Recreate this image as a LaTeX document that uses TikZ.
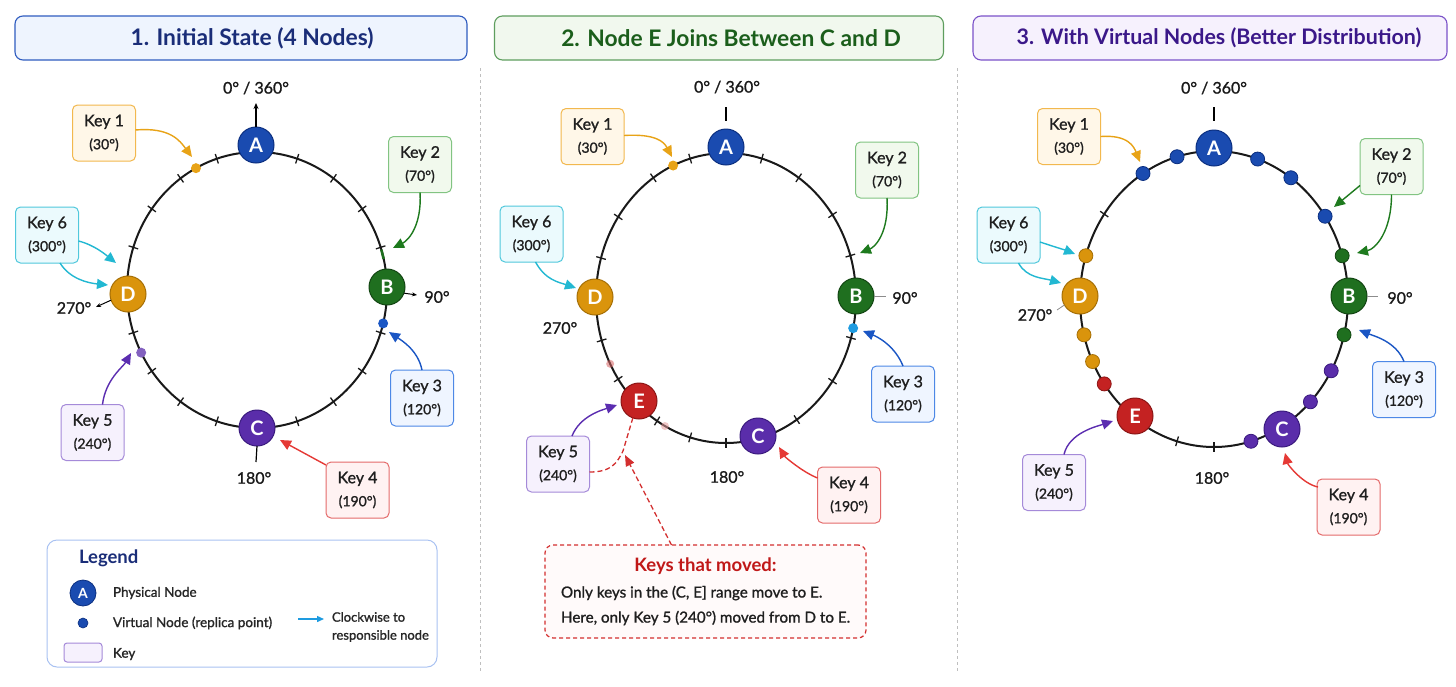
\documentclass[tikz,border=0pt]{standalone}
\usepackage{fontspec}
\setmainfont{Lato}
\newfontfamily\medium[FakeBold=1.2]{Lato}
\usetikzlibrary{arrows.meta,calc}
\definecolor{nblue}{HTML}{1A4BB0}
\definecolor{nblueD}{HTML}{0B2F80}
\definecolor{ngreen}{HTML}{1F6F1F}
\definecolor{ngreenD}{HTML}{124512}
\definecolor{npurple}{HTML}{5A2DAA}
\definecolor{npurpleD}{HTML}{3A1A7E}
\definecolor{norange}{HTML}{DA940C}
\definecolor{norangeD}{HTML}{A66F05}
\definecolor{nred}{HTML}{C42222}
\definecolor{nredD}{HTML}{8C1515}
\definecolor{kob}{HTML}{F2B84E}\definecolor{kof}{HTML}{FFF7E8}\definecolor{koa}{HTML}{E8A317}
\definecolor{kgb}{HTML}{82C482}\definecolor{kgf}{HTML}{F1F9ED}\definecolor{kga}{HTML}{1E7A1E}
\definecolor{kbb}{HTML}{4D88E6}\definecolor{kbf}{HTML}{EFF5FF}\definecolor{kba}{HTML}{1A56C4}
\definecolor{krb}{HTML}{E46A6A}\definecolor{krf}{HTML}{FFF2F2}\definecolor{kra}{HTML}{E53935}
\definecolor{kpb}{HTML}{A58AD9}\definecolor{kpf}{HTML}{F6F1FD}\definecolor{kpa}{HTML}{5B2DB0}
\definecolor{kcb}{HTML}{50C8DC}\definecolor{kcf}{HTML}{EBFAFD}\definecolor{kca}{HTML}{22B8D2}
\definecolor{tbf}{HTML}{EEF4FE}\definecolor{tbb}{HTML}{2F5CC0}\definecolor{tbt}{HTML}{1A2D78}
\definecolor{tgf}{HTML}{F1F8EE}\definecolor{tgb}{HTML}{5E9E5E}\definecolor{tgt}{HTML}{1B5E1B}
\definecolor{tpf}{HTML}{F6F1FD}\definecolor{tpb}{HTML}{7B52C9}\definecolor{tpt}{HTML}{3B1889}
\definecolor{mvred}{HTML}{D32F2F}\definecolor{mvtxt}{HTML}{C01818}
\definecolor{lgb}{HTML}{A9C2F2}\definecolor{cwarrow}{HTML}{1E9BE0}
\newcommand{\rtick}[5]{\draw[tickline] ({#1+(#3-5)*sin(#5)},{#2-(#4-5)*cos(#5)}) -- ({#1+(#3+5)*sin(#5)},{#2-(#4+5)*cos(#5)});}
\newcommand{\keytext}[2]{#1\\{\fontsize{14}{23}\selectfont #2}}
\begin{document}
\begin{tikzpicture}[x=1pt,y=-1pt,
  every node/.style={inner sep=0pt, outer sep=0pt},
  ring/.style={draw=black!90, line width=2pt},
  tickline/.style={draw=black!90, line width=1.3pt},
  pnode/.style 2 args={circle, minimum size=36pt, fill=#1, draw=#2, line width=1pt, text=white, font=\fontsize{20}{20}\selectfont\bfseries},
  vnode/.style 2 args={circle, minimum size=14pt, fill=#1, draw=#2, line width=0.8pt},
  kdot/.style={circle, minimum size=10pt, fill=#1},
  kbox/.style 2 args={draw=#1, fill=#2, rounded corners=5pt, line width=1pt, minimum width=63pt, minimum height=56pt, align=center, text=black!88, font=\medium\fontsize{16}{23}\selectfont},
  karrow/.style={draw=#1, line width=1.4pt, -{Triangle[length=11pt,width=10pt]}},
  deglabel/.style={font=\medium\fontsize{16}{16}\selectfont, text=black!90},
  ptitle/.style 2 args={draw=#2, fill=#1, rounded corners=8pt, line width=1.1pt, minimum height=44pt},
  ptext/.style={text=#1, font=\fontsize{22.8}{22.8}\selectfont\bfseries},
  sepline/.style={draw=black!25, line width=1pt, dash pattern=on 3pt off 3pt},
  reddash/.style={draw=mvred, line width=1.3pt, dash pattern=on 5pt off 3pt},
  lgtext/.style={anchor=west, font=\medium\fontsize{13.5}{15}\selectfont, text=black!85}
]
\fill[white] (0,0) rectangle (1456,686);
\useasboundingbox (0,0) rectangle (1456,686);

% separators
\draw[sepline] (480,68) -- (480,672);
\draw[sepline] (957,68) -- (957,672);

% titles
\node[ptitle={tbf}{tbb}, minimum width=452pt] (t1box) at (241,38) {};
\node[ptext=tbt] (t1) at (252,38) {1. Initial State (4 Nodes)};
\node[ptitle={tgf}{tgb}, minimum width=449pt] (t2box) at (719,38) {};
\node[ptext=tgt] (t2) at (731,38) {2. Node E Joins Between C and D};
\node[ptitle={tpf}{tpb}, minimum width=474pt] (t3box) at (1210,38) {};
\node[ptext=tpt, font=\fontsize{21.4}{21.4}\selectfont\bfseries] (t3) at (1219,38) {3. With Virtual Nodes (Better Distribution)};

%%%%%%%%%%%%%%%% PANEL 1
\draw[ring] (257,290) ellipse [x radius=130, y radius=138];
\foreach \t in {18,36,54,72,108,126,144,162,198,216,234,252,288,306,324,342} {\rtick{257}{290}{130}{138}{\t}}
\draw[ngreen, line width=2.6pt] ({257+130*sin(73)},{290-138*cos(73)}) -- ({257+130*sin(77)},{290-138*cos(77)});
\node[kdot=koa] (p1d1) at ({257+130*sin(332)},{290-138*cos(332)}) {};
\node[kdot=kba] (p1d3) at ({257+130*sin(104)},{290-138*cos(104)}) {};
\node[kdot=npurple!75] (p1d5) at ({257+130*sin(243)},{290-138*cos(243)}) {};
\node[pnode={nblue}{nblueD}] (p1A) at (256,145) {A};
\node[pnode={ngreen}{ngreenD}] (p1B) at (387,287) {B};
\node[pnode={npurple}{npurpleD}] (p1C) at (257,428) {C};
\node[pnode={norange}{norangeD}] (p1D) at (128,294) {D};
\node[deglabel] (p1l0) at (256,88) {0° / 360°};
\coordinate (p1l0a) at (256,103);
\draw[line width=1.2pt, -{Stealth[length=6pt,width=5pt]}] (p1A.north) -- (p1l0a);
\node[deglabel] (p1l90) at (437,297) {90°};
\coordinate (p1l90a) at (417,295);
\draw[line width=1pt, -{Stealth[length=5pt,width=4pt]}] (p1B.340) -- (p1l90a);
\node[deglabel] (p1l270) at (74,308) {270°};
\coordinate (p1l270a) at (96,307);
\draw[line width=1pt, -{Stealth[length=5pt,width=4pt]}] (p1D.200) -- (p1l270a);
\node[deglabel] (p1l180) at (254,478) {180°};
\coordinate (p1l180a) at (256,462);
\draw[line width=1.2pt] (p1C.south) -- (p1l180a);

\node[kbox={kob}{kof}] (p1k1) at (104,133) {\keytext{Key 1}{(30°)}};
\node[kbox={kgb}{kgf}] (p1k2) at (420,164.5) {\keytext{Key 2}{(70°)}};
\node[kbox={kcb}{kcf}] (p1k6) at (47,235) {\keytext{Key 6}{(300°)}};
\node[kbox={kbb}{kbf}] (p1k3) at (422,398) {\keytext{Key 3}{(120°)}};
\node[kbox={kpb}{kpf}] (p1k5) at (92.5,432.5) {\keytext{Key 5}{(240°)}};
\node[kbox={krb}{krf}] (p1k4) at (357.5,490) {\keytext{Key 4}{(190°)}};
\coordinate (p1e1) at (192,157);
\coordinate (p1e2) at (393,248);
\coordinate (p1e6a) at (116,263);
\coordinate (p1e6b) at (108,285);
\coordinate (p1e3) at (389,332);
\coordinate (p1e5) at (131,353);
\coordinate (p1e4) at (280,440);
\draw[karrow=koa] ($(p1k1.east)+(0,-3)$) .. controls +(35,-3) and +(-12,-16) .. (p1e1);
\draw[karrow=kga] (p1k2.south) .. controls +(2,32) and +(16,-8) .. (p1e2);
\draw[karrow=kca] ($(p1k6.east)+(0,6)$) .. controls +(16,4) and +(-10,-8) .. (p1e6a);
\draw[karrow=kca] ($(p1k6.south)+(13,0)$) .. controls +(10,16) and +(-20,-2) .. (p1e6b);
\draw[karrow=kba] (p1k3.north) .. controls +(-4,-20) and +(12,8) .. (p1e3);
\draw[karrow=kpa] ($(p1k5.north)+(10,0)$) .. controls +(3,-25) and +(-8,14) .. (p1e5);
\draw[karrow=kra] ($(p1k4.north west)+(0,3)$) -- (p1e4);

% legend
\node[draw=lgb, fill=white, rounded corners=10pt, line width=1pt, minimum width=390pt, minimum height=127pt] (leg) at (242,603.5) {};
\node[anchor=west, font=\fontsize{18.5}{18.5}\selectfont\bfseries, text=tbt] (legt) at (79,558) {Legend};
\node[circle, minimum size=26pt, fill=nblue, draw=nblueD, line width=0.8pt, text=white, font=\fontsize{14}{14}\selectfont\bfseries] (legA) at (83,593) {A};
\node[lgtext] (legAt) at (113,593) {Physical Node};
\node[circle, minimum size=10pt, fill=nblue, draw=nblueD, line width=0.6pt] (legV) at (83,623) {};
\node[lgtext] (legVt) at (113,623) {Virtual Node (replica point)};
\node[draw=kpb, fill=kpf, rounded corners=3pt, line width=1pt, minimum width=38pt, minimum height=19pt] (legK) at (83,652.5) {};
\node[lgtext] (legKt) at (113,654) {Key};
\coordinate (legar1) at (298,619);
\coordinate (legar2) at (324,619);
\draw[draw=cwarrow, line width=1.4pt, -{Triangle[length=7pt,width=6pt]}] (legar1) -- (legar2);
\node[lgtext, align=left, font=\medium\fontsize{13}{18}\selectfont] (legCt) at (332,627) {Clockwise to\\responsible node};

%%%%%%%%%%%%%%%% PANEL 2
\draw[ring] (726,298) ellipse [x radius=130, y radius=145];
\foreach \t in {16,34,55,73,106,125,147,180,196,212,236,253,286,304,326,344} {\rtick{726}{298}{130}{145}{\t}}
\fill[nred!70, opacity=0.55] ({726+130*sin(243)},{298-145*cos(243)}) circle [radius=4];
\fill[nred!45, opacity=0.55] ({726+130*sin(208)},{298-145*cos(208)}) circle [radius=4];
\node[kdot=koa] (p2d1) at ({726+130*sin(336)},{298-145*cos(336)}) {};
\node[kdot=cwarrow] (p2d3) at ({726+130*sin(102)},{298-145*cos(102)}) {};
\node[pnode={nblue}{nblueD}] (p2A) at (726,147) {A};
\node[pnode={ngreen}{ngreenD}] (p2B) at (856,296) {B};
\node[pnode={npurple}{npurpleD}] (p2C) at (758,436) {C};
\node[pnode={norange}{norangeD}] (p2D) at (595,297) {D};
\node[pnode={nred}{nredD}] (p2E) at (639,401) {E};
\node[deglabel] (p2l0) at (727,87) {0° / 360°};
\coordinate (p2l0a) at (726,107);
\coordinate (p2l0b) at (726,121);
\draw[line width=1.2pt] (p2l0a) -- (p2l0b);
\node[deglabel] (p2l90) at (905,298) {90°};
\coordinate (p2l90a) at (886,296);
\draw[black!45, line width=1pt] (p2B.east) -- (p2l90a);
\node[deglabel] (p2l270) at (560,328) {270°};
\node[deglabel] (p2l180) at (727,477) {180°};

\node[kbox={kob}{kof}] (p2k1) at (592.5,136.5) {\keytext{Key 1}{(30°)}};
\node[kbox={kgb}{kgf}] (p2k2) at (887,170) {\keytext{Key 2}{(70°)}};
\node[kbox={kcb}{kcf}] (p2k6) at (531.5,234) {\keytext{Key 6}{(300°)}};
\node[kbox={kbb}{kbf}] (p2k3) at (903,394) {\keytext{Key 3}{(120°)}};
\node[kbox={kpb}{kpf}] (p2k5) at (558,464) {\keytext{Key 5}{(240°)}};
\node[kbox={krb}{krf}] (p2k4) at (849,495) {\keytext{Key 4}{(190°)}};
\coordinate (p2e1) at (672,157);
\coordinate (p2e2) at (860,253);
\coordinate (p2e6) at (576,288);
\coordinate (p2e3) at (863,331);
\coordinate (p2e5) at (617,405);
\coordinate (p2e4) at (779,447);
\draw[karrow=koa] ($(p2k1.east)+(0,-1)$) .. controls +(32,-2) and +(-8,-15) .. (p2e1);
\draw[karrow=kga] (p2k2.south) .. controls +(2,35) and +(15,-6) .. (p2e2);
\draw[karrow=kca] ($(p2k6.south)+(4,0)$) .. controls +(10,18) and +(-18,-6) .. (p2e6);
\draw[karrow=kba] (p2k3.north) .. controls +(-8,-20) and +(15,6) .. (p2e3);
\draw[karrow=kpa] ($(p2k5.north)+(14,0)$) .. controls +(8,-20) and +(-15,5) .. (p2e5);
\draw[karrow=kra] ($(p2k4.north west)+(0,11)$) .. controls +(-15,-6) and +(6,10) .. (p2e4);

% keys that moved
\node[draw=mvred, fill=red!2, rounded corners=8pt, line width=1.2pt, dash pattern=on 4pt off 3pt, minimum width=321pt, minimum height=93pt] (moved) at (705.5,591.5) {};
\node[font=\fontsize{18.5}{18.5}\selectfont\bfseries, text=mvtxt] (movedt) at (705.5,566) {Keys that moved:};
\node[anchor=west, font=\medium\fontsize{15.2}{16}\selectfont, text=black!88] (moved1) at (561,593) {Only keys in the (C, E] range move to E.};
\node[anchor=west, font=\medium\fontsize{15.2}{16}\selectfont, text=black!88] (moved2) at (561,618) {Here, only Key 5 (240°) moved from D to E.};
\coordinate (m2) at (623,451);
\coordinate (m2b) at (625,455);
\draw[reddash] (p2E.250) -- (m2);
\draw[reddash] ($(p2k5.east)+(0,8)$) .. controls +(22,0) and +(-6,12) .. (m2);
\draw[reddash, -{Triangle[length=11pt,width=9pt]}] ($(moved.north)+(-34,0)$) -- (m2b);

%%%%%%%%%%%%%%%% PANEL 3
\draw[ring] (1214,299) ellipse [x radius=134, y radius=148];
\foreach \t in {164,180,196,305} {\rtick{1214}{299}{134}{148}{\t}}
\foreach \n/\t in {a/328,b/344,c/19,d/35,e/56} {\node[vnode={nblue}{nblueD}] (p3vb\n) at ({1214+134*sin(\t)},{299-148*cos(\t)}) {};}
\foreach \n/\t in {a/73,b/104} {\node[vnode={ngreen}{ngreenD}] (p3vg\n) at ({1214+134*sin(\t)},{299-148*cos(\t)}) {};}
\foreach \n/\t in {a/119,b/134,c/164} {\node[vnode={npurple}{npurpleD}] (p3vp\n) at ({1214+134*sin(\t)},{299-148*cos(\t)}) {};}
\foreach \n/\t in {a/287,b/256,c/245} {\node[vnode={norange}{norangeD}] (p3vo\n) at ({1214+134*sin(\t)},{299-148*cos(\t)}) {};}
\node[vnode={nred}{nredD}] (p3vr) at ({1214+134*sin(235)},{299-148*cos(235)}) {};
\node[pnode={nblue}{nblueD}] (p3A) at (1214,148) {A};
\node[pnode={ngreen}{ngreenD}] (p3B) at (1349,296) {B};
\node[pnode={npurple}{npurpleD}] (p3C) at (1282,429) {C};
\node[pnode={norange}{norangeD}] (p3D) at (1080,296) {D};
\node[pnode={nred}{nredD}] (p3E) at (1135,416) {E};
\node[deglabel] (p3l0) at (1214,88) {0° / 360°};
\coordinate (p3l0a) at (1214,107);
\coordinate (p3l0b) at (1214,121);
\draw[line width=1.2pt] (p3l0a) -- (p3l0b);
\node[deglabel] (p3l90) at (1400,298) {90°};
\coordinate (p3l90a) at (1378,296);
\draw[black!45, line width=1pt] (p3B.east) -- (p3l90a);
\node[deglabel] (p3l270) at (1035,315) {270°};
\coordinate (p3l270a) at (1057,310);
\draw[black!45, line width=0.8pt] (p3D.210) -- (p3l270a);
\node[deglabel] (p3l180) at (1212,478) {180°};

\node[kbox={kob}{kof}] (p3k1) at (1069,136.5) {\keytext{Key 1}{(30°)}};
\node[kbox={kgb}{kgf}] (p3k2) at (1391.5,166.5) {\keytext{Key 2}{(70°)}};
\node[kbox={kcb}{kcf}] (p3k6) at (1008.5,235) {\keytext{Key 6}{(300°)}};
\node[kbox={kbb}{kbf}] (p3k3) at (1404,389.5) {\keytext{Key 3}{(120°)}};
\node[kbox={kpb}{kpf}] (p3k5) at (1054,482.5) {\keytext{Key 5}{(240°)}};
\node[kbox={krb}{krf}] (p3k4) at (1348.5,507) {\keytext{Key 4}{(190°)}};
\coordinate (p3e1) at (1140,162);
\coordinate (p3e2a) at (1334,207);
\coordinate (p3e2b) at (1357,253);
\coordinate (p3e6a) at (1075,254);
\coordinate (p3e6b) at (1061,283);
\coordinate (p3e3) at (1359,330);
\coordinate (p3e5) at (1113,421);
\coordinate (p3e4) at (1285,453);
\draw[karrow=koa] (p3k1.east) .. controls +(28,-2) and +(-6,-15) .. (p3e1);
\draw[karrow=kga] ($(p3k2.south west)+(0,-9)$) -- (p3e2a);
\draw[karrow=kga] (p3k2.south) .. controls +(0,38) and +(18,-4) .. (p3e2b);
\draw[karrow=kca] ($(p3k6.east)+(0,7)$) .. controls +(15,5) and +(-10,-4) .. (p3e6a);
\draw[karrow=kca] ($(p3k6.south)+(10,0)$) .. controls +(8,15) and +(-18,-5) .. (p3e6b);
\draw[karrow=kba] (p3k3.north) .. controls +(-8,-20) and +(15,6) .. (p3e3);
\draw[karrow=kpa] ($(p3k5.north)+(10,0)$) .. controls +(5,-22) and +(-15,5) .. (p3e5);
\draw[karrow=kra] ($(p3k4.north west)+(1,8)$) .. controls +(-15,-3) and +(3,12) .. (p3e4);
\end{tikzpicture}
\end{document}
